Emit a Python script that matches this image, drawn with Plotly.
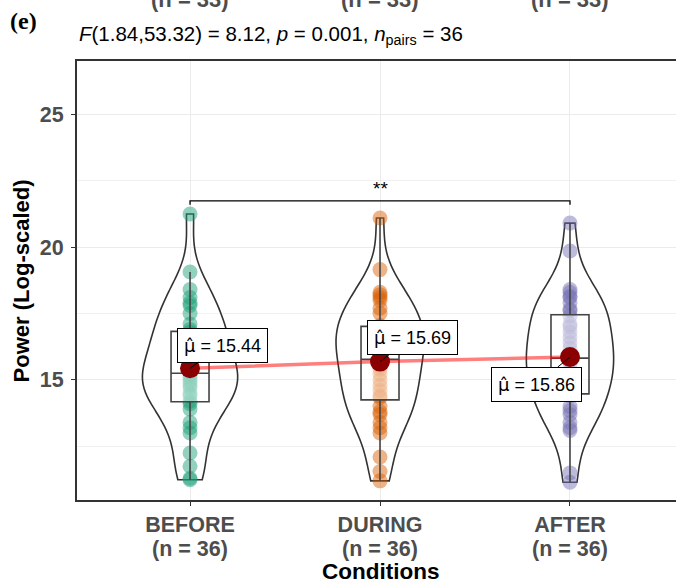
import numpy as np
import plotly.graph_objects as go

# ---- data -------------------------------------------------------------
conditions = ["BEFORE", "DURING", "AFTER"]
n_labels = ["(n = 36)", "(n = 36)", "(n = 36)"]

before = [11.24, 11.3, 11.75, 12.25, 13.0, 13.2, 13.4, 13.9, 14.1, 14.2,
          14.4, 14.5, 14.7, 14.8, 14.9, 15.0, 15.1, 15.2, 15.3, 15.5,
          15.7, 15.9, 16.1, 16.3, 16.5, 16.7, 16.8, 16.9, 17.1, 17.5,
          17.8, 17.9, 18.1, 18.4, 19.06, 21.24]
during = [11.2, 11.55, 12.1, 13.0, 13.2, 13.4, 13.7, 13.8, 14.0, 14.33,
          14.4, 14.6, 14.8, 15.0, 15.2, 15.4, 15.5, 15.7, 15.84, 16.1,
          16.3, 16.5, 16.6, 16.7, 16.85, 16.95, 17.0, 17.05, 17.5, 17.7,
          18.0, 18.1, 18.2, 18.3, 19.15, 21.09]
after = [11.15, 11.5, 13.1, 13.2, 13.4, 13.7, 13.85, 14.0, 14.4, 14.5,
         14.6, 14.8, 15.0, 15.2, 15.3, 15.6, 15.7, 15.8, 15.84, 16.0,
         16.2, 16.4, 16.6, 16.8, 17.0, 17.1, 17.4, 17.6, 17.65, 17.9,
         18.1, 18.15, 18.3, 18.4, 19.85, 20.9]

y_ticks = [15, 20, 25]
y_minor = [12.5, 17.5, 22.5]
stat_text = "<i>F</i>(1.84,53.32) = 8.12, <i>p</i> = 0.001, <i>n</i><sub>pairs</sub> = 36"
signif_text = "**"
panel_tag = "(e)"
upper_panel_n = "(n = 33)"

# ---- styling ------------------------------------------------------------
palette = ["27,158,119", "217,95,2", "117,112,179"]   # Dark2
FONT = "Liberation Sans"
GREY = "#4d4d4d"

groups = [np.asarray(g, dtype=float) for g in (before, during, after)]
xpos = [1, 2, 3]


def bw_nrd0(v):
    q1, q3 = np.percentile(v, [25, 75])
    spread = min(np.std(v, ddof=1), (q3 - q1) / 1.34)
    return 0.9 * spread * len(v) ** -0.2


def kde_peak(v, bw):
    grid = np.linspace(v.min(), v.max(), 512)
    z = (grid[:, None] - v[None, :]) / bw
    dens = np.exp(-0.5 * z ** 2).sum(axis=1) / (len(v) * bw * np.sqrt(2 * np.pi))
    return dens.max()


bws = [bw_nrd0(v) for v in groups]
peaks = np.array([kde_peak(v, b) for v, b in zip(groups, bws)])
violin_widths = 0.5 * peaks / peaks.max()   # area-scaled violins
means = [v.mean() for v in groups]

fig = go.Figure()

# violins carrying the raw observations
for v, x, bw, w, rgb in zip(groups, xpos, bws, violin_widths, palette):
    fig.add_trace(go.Violin(
        x=[x] * len(v), y=v, bandwidth=bw, spanmode="hard", width=w,
        scalemode="width", side="both",
        line=dict(color="#333333", width=1.6),
        fillcolor="rgba(255,255,255,0.2)",
        points="all", pointpos=0, jitter=0,
        marker=dict(size=15, color=f"rgba({rgb},0.48)", line=dict(width=0)),
        box=dict(visible=False), meanline=dict(visible=False),
        showlegend=False, hoverinfo="skip",
    ))

# box plots (Tukey whiskers, outliers not drawn)
for v, x in zip(groups, xpos):
    q1, med, q3 = np.percentile(v, [25, 50, 75])
    iqr = q3 - q1
    lo = v[v >= q1 - 1.5 * iqr].min()
    hi = v[v <= q3 + 1.5 * iqr].max()
    fig.add_trace(go.Box(
        x=[x], q1=[q1], median=[med], q3=[q3], lowerfence=[lo], upperfence=[hi],
        width=0.2, whiskerwidth=0, boxpoints=False,
        fillcolor="rgba(255,255,255,0.5)",
        line=dict(color="#444444", width=1.6),
        showlegend=False, hoverinfo="skip",
    ))

# path joining the means, then the mean markers
fig.add_trace(go.Scatter(
    x=xpos, y=means, mode="lines",
    line=dict(color="rgba(255,0,0,0.5)", width=3.5),
    showlegend=False, hoverinfo="skip",
))
fig.add_trace(go.Scatter(
    x=xpos, y=means, mode="markers",
    marker=dict(size=20, color="darkred"),
    showlegend=False, hoverinfo="skip",
))

# pairwise comparison bracket BEFORE vs AFTER
top = max(v.max() for v in groups)
y_br = top + 0.5
fig.add_trace(go.Scatter(
    x=[xpos[0], xpos[0], xpos[2], xpos[2]],
    y=[y_br - 0.15, y_br, y_br, y_br - 0.15],
    mode="lines", line=dict(color="black", width=1.3),
    showlegend=False, hoverinfo="skip",
))

annotations = []
annotations.append(dict(
    x=(xpos[0] + xpos[2]) / 2, y=y_br, xref="x", yref="y",
    text=signif_text, showarrow=False, yanchor="bottom", yshift=0,
    font=dict(family=FONT, size=19, color="black"),
))

# mean labels
label_offsets = [(32, -23), (32, -24), (-33, 27)]
mu_hat = '<span style="font-family:DejaVu Sans">\u03bc\u0302</span>'
for x, m, (ax, ay) in zip(xpos, means, label_offsets):
    annotations.append(dict(
        x=x, y=m, xref="x", yref="y",
        text=f"{mu_hat} = {m:.2f}",
        showarrow=True, arrowhead=0, arrowwidth=1, arrowcolor="black",
        ax=ax, ay=ay, standoff=0,
        bgcolor="white", bordercolor="black", borderwidth=1, borderpad=6,
        font=dict(family=FONT, size=18, color="black"),
    ))

# sample sizes under each condition name
for x, n in zip(xpos, n_labels):
    annotations.append(dict(
        x=x, y=-0.1116, xref="x", yref="paper", xanchor="center", yanchor="middle",
        text=n, showarrow=False,
        font=dict(family=FONT, size=21.5, color=GREY, weight="bold"),
    ))

# statistical subtitle
annotations.append(dict(
    x=0, y=1.06, xref="paper", yref="paper", xanchor="left", yanchor="middle",
    text=stat_text, showarrow=False,
    font=dict(family=FONT, size=20.5, color="black"),
))
# panel tag
annotations.append(dict(
    x=-0.09, y=1.092, xref="paper", yref="paper", xanchor="center", yanchor="middle",
    text=panel_tag, showarrow=False,
    font=dict(family="Liberation Serif", size=24, color="black", weight="bold"),
))
# sample-size captions of the panel above
for x in xpos:
    annotations.append(dict(
        x=x, y=1.108, xref="x", yref="paper", xanchor="center", yanchor="bottom",
        text=upper_panel_n, showarrow=False,
        font=dict(family=FONT, size=22, color=GREY, weight="bold"),
    ))
# axis titles
annotations.append(dict(
    x=(xpos[0] + xpos[2]) / 2, y=-0.164, xref="x", yref="paper",
    xanchor="center", yanchor="middle", text="Conditions", showarrow=False,
    font=dict(family=FONT, size=22.5, color="black", weight="bold"),
))
annotations.append(dict(
    x=-0.092, y=0.5, xref="paper", yref="paper", textangle=-90,
    xanchor="center", yanchor="middle", text="Power (Log-scaled)", showarrow=False,
    font=dict(family=FONT, size=22, color="black", weight="bold"),
))

fig.update_layout(
    width=676, height=582,
    margin=dict(l=77, r=0, t=61, b=82),
    paper_bgcolor="white", plot_bgcolor="white",
    violinmode="overlay", boxmode="overlay",
    annotations=annotations,
    xaxis=dict(
        range=[0.405, 3.558], tickvals=xpos, ticktext=conditions,
        tickfont=dict(family=FONT, size=21.5, color=GREY, weight="bold"),
        showgrid=True, gridcolor="#ebebeb", gridwidth=1,
        showline=True, linecolor="#333333", linewidth=2, mirror=True,
        ticks="outside", ticklen=4, tickcolor="#333333", tickwidth=1.2,
        zeroline=False,
    ),
    yaxis=dict(
        range=[10.48, 27.0], tickvals=y_ticks,
        tickfont=dict(family=FONT, size=21.5, color=GREY, weight="bold"),
        ticklabelstandoff=3,
        showgrid=True, gridcolor="#ebebeb", gridwidth=1,
        minor=dict(tickvals=y_minor, showgrid=True, gridcolor="#f0f0f0",
                   gridwidth=0.7, ticks=""),
        showline=True, linecolor="#333333", linewidth=2,
        ticks="outside", ticklen=4, tickcolor="#333333", tickwidth=1.2,
        zeroline=False,
    ),
)

fig.write_html("out.html")
